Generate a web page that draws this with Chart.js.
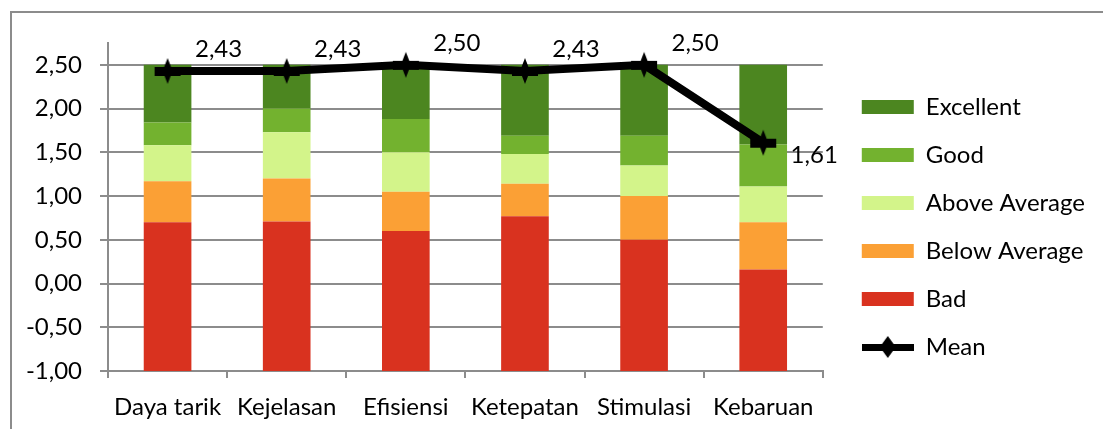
<!DOCTYPE html>
<html>
<head>
<meta charset="utf-8">
<script src="https://cdn.jsdelivr.net/npm/chart.js@4.4.1/dist/chart.umd.min.js"></script>
<style>
  html, body { margin: 0; padding: 0; background: #fff; }
  #wrap { position: relative; width: 1103px; height: 429px; overflow: hidden; }
  #frame { position: absolute; left: 10px; top: 11px; width: 1200px; height: 500px;
           border-left: 2px solid #8c8c8c; border-top: 2px solid #8c8c8c; }
  canvas { position: absolute; left: 0; top: 0; }
</style>
</head>
<body>
<div id="wrap">
  <div id="frame"></div>
  <canvas id="chart" width="1103" height="429"></canvas>
</div>
<script>
// categories and values
var categories = ["Daya tarik", "Kejelasan", "Efisiensi", "Ketepatan", "Stimulasi", "Kebaruan"];
var axisBase = -1;
// segment heights, stacked upward from the axis base
var bad          = [1.70, 1.71, 1.60, 1.77, 1.50, 1.16];
var belowAverage = [0.47, 0.49, 0.45, 0.37, 0.50, 0.54];
var aboveAverage = [0.41, 0.53, 0.45, 0.34, 0.35, 0.41];
var good         = [0.26, 0.27, 0.38, 0.21, 0.34, 0.48];
var excellent    = [0.66, 0.50, 0.62, 0.81, 0.81, 0.91];
var mean         = [2.43, 2.43, 2.50, 2.43, 2.50, 1.61];
var yTicks       = [-1.00, -0.50, 0.00, 0.50, 1.00, 1.50, 2.00, 2.50];

var FONT = "Lato";
var FSIZE = 24;

function fmt(v) {
  return v.toFixed(2).replace(".", ",");
}

// turn the stacked segments into floating bars [from, to]
var series = [
  {label: "Bad", values: bad, color: "#d9321f"},
  {label: "Below Average", values: belowAverage, color: "#fba035"},
  {label: "Above Average", values: aboveAverage, color: "#d3f48a"},
  {label: "Good", values: good, color: "#73b22f"},
  {label: "Excellent", values: excellent, color: "#4c8620"}
];
var running = categories.map(function(){ return axisBase; });
var barSets = series.map(function(s) {
  var d = [];
  for (var i = 0; i < categories.length; i++) {
    d.push([running[i], running[i] + s.values[i]]);
    running[i] = running[i] + s.values[i];
  }
  return {
    type: "bar",
    label: s.label,
    data: d,
    backgroundColor: s.color,
    borderWidth: 0,
    barPercentage: 0.40,
    categoryPercentage: 1.0,
    order: 2
  };
});

// marker for the mean line: a thick flat bar with a tall thin diamond
function meanMarker() {
  var c = document.createElement("canvas");
  c.width = 30; c.height = 30;
  var g = c.getContext("2d");
  g.fillStyle = "#000";
  g.fillRect(2, 11, 26, 9);
  g.beginPath();
  g.moveTo(15, 2); g.lineTo(20, 15); g.lineTo(15, 28); g.lineTo(10, 15);
  g.closePath(); g.fill();
  return c;
}
function meanLegendIcon() {
  var c = document.createElement("canvas");
  c.width = 52; c.height = 24;
  var g = c.getContext("2d");
  g.fillStyle = "#000";
  g.fillRect(0, 9, 52, 7);
  g.beginPath();
  g.moveTo(26, 1); g.lineTo(34, 12); g.lineTo(26, 23); g.lineTo(18, 12);
  g.closePath(); g.fill();
  return c;
}

var meanSet = {
  type: "line",
  label: "Mean",
  data: mean,
  borderColor: "#000",
  backgroundColor: "#000",
  borderWidth: 8,
  pointStyle: meanMarker(),
  pointRadius: 10,
  tension: 0,
  order: 1
};

// value labels next to the mean points
var meanLabels = {
  id: "meanLabels",
  afterDatasetsDraw: function(chart) {
    var idx = chart.data.datasets.length - 1;
    var meta = chart.getDatasetMeta(idx);
    var ctx = chart.ctx;
    ctx.save();
    ctx.font = FSIZE + "px " + FONT;
    ctx.fillStyle = "#000";
    ctx.textAlign = "center";
    ctx.textBaseline = "middle";
    meta.data.forEach(function(pt, i) {
      var v = mean[i];
      var dy = v < 2 ? 13 : -22;
      ctx.fillText(fmt(v), pt.x + 51, pt.y + dy);
    });
    ctx.restore();
  }
};

// push the legend a bit away from the plot, like the original
var legendShift = {
  id: "legendShift",
  afterLayout: function(chart) {
    var lg = chart.legend;
    lg.left += 15; lg.right += 15;
    lg.top -= 9; lg.bottom -= 9;
  }
};

var legendOrder = ["Excellent", "Good", "Above Average", "Below Average", "Bad", "Mean"];
var legendIcon = meanLegendIcon();

var ctx = document.getElementById("chart").getContext("2d");
var chart = new Chart(ctx, {
  data: {
    labels: categories,
    datasets: barSets.concat([meanSet])
  },
  plugins: [meanLabels, legendShift],
  options: {
    responsive: false,
    animation: false,
    layout: { padding: { left: 10, top: 43, right: 23, bottom: 0 } },
    plugins: {
      tooltip: { enabled: false },
      legend: {
        position: "right",
        labels: {
          usePointStyle: true,
          pointStyleWidth: 52,
          boxHeight: 14,
          padding: 24,
          color: "#000",
          font: { family: FONT, size: FSIZE },
          generateLabels: function(ch) {
            return legendOrder.map(function(name) {
              var i = ch.data.datasets.findIndex(function(d){ return d.label === name; });
              var ds = ch.data.datasets[i];
              return {
                text: name,
                datasetIndex: i,
                fillStyle: ds.backgroundColor,
                strokeStyle: ds.backgroundColor,
                lineWidth: 0,
                pointStyle: name === "Mean" ? legendIcon : "rect",
                hidden: false
              };
            });
          }
        }
      }
    },
    scales: {
      x: {
        stacked: true,
        grid: { offset: true, drawOnChartArea: false, drawTicks: true, tickLength: 7, color: "#8c8c8c", lineWidth: 2 },
        border: { display: true, color: "#8c8c8c", width: 2 },
        ticks: { color: "#000", font: { family: FONT, size: FSIZE }, padding: 15, maxRotation: 0, autoSkip: false },
        afterFit: function(s) { s.height = 58; }
      },
      y: {
        stacked: false,
        min: -1,
        max: 2.75,
        afterBuildTicks: function(s) {
          s.ticks = yTicks.map(function(v){ return {value: v}; });
        },
        grid: { color: "#8c8c8c", lineWidth: 2, drawTicks: true, tickLength: 8 },
        border: { display: true, color: "#8c8c8c", width: 2 },
        ticks: {
          color: "#000",
          font: { family: FONT, size: FSIZE },
          padding: 18,
          callback: function(v) { return fmt(v); }
        },
        afterFit: function(s) { s.width = 98; }
      }
    }
  }
});
</script>
</body>
</html>
